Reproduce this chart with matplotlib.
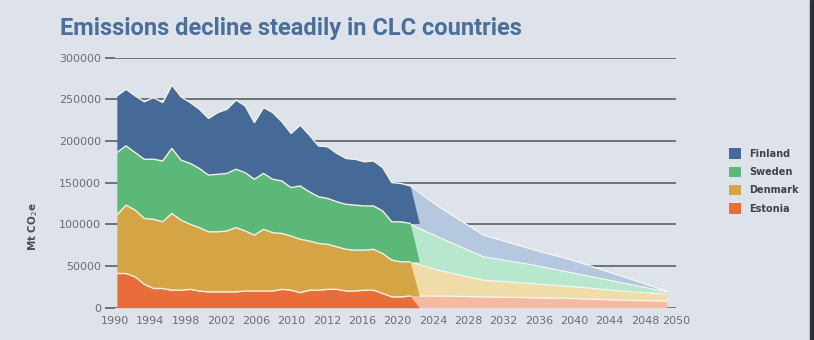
import numpy as np
import matplotlib
matplotlib.use("Agg")
import matplotlib.pyplot as plt
from matplotlib.patches import Patch, Rectangle

# ---------------- data ----------------
hist_years = list(range(1990, 2023))
# per-country values (Mt CO2e)
estonia = [41000, 41000, 37000, 28000, 23000, 23000, 21000, 21000, 22000, 20000,
           19000, 19000, 19000, 19000, 20000, 20000, 20000, 20000, 22000, 21000,
           18000, 21000, 21000, 22000, 22000, 20000, 20000, 21000, 21000, 17000,
           13000, 13000, 14000]
denmark = [70000, 82000, 80000, 79000, 83000, 80000, 92000, 84000, 78000, 76000,
           72000, 72000, 73000, 77000, 72000, 67000, 74000, 70000, 67000, 65000,
           64000, 59000, 56000, 54000, 51000, 50000, 49000, 48000, 49000, 48000,
           44000, 42000, 41000]
sweden = [75000, 71000, 69000, 71000, 72000, 73000, 78000, 72000, 73000, 71000,
          68000, 69000, 69000, 70000, 70000, 67000, 67000, 64000, 63000, 58000,
          64000, 59000, 56000, 55000, 54000, 54000, 54000, 53000, 52000, 51000,
          46000, 48000, 46000]
finland = [68000, 68000, 68000, 69000, 74000, 70000, 76000, 76000, 73000, 71000,
           68000, 74000, 77000, 83000, 80000, 68000, 79000, 80000, 71000, 65000,
           73000, 68000, 61000, 62000, 58000, 55000, 55000, 53000, 54000, 52000,
           47000, 46000, 45000]

proj_years = [2022, 2025, 2030, 2035, 2040, 2045, 2050]
estonia_proj = [14000, 14000, 13000, 12000, 11000, 9000, 8000]
denmark_proj = [41000, 31000, 20000, 17000, 14000, 11000, 8000]
sweden_proj = [45000, 40000, 28000, 23000, 16000, 10000, 3000]
finland_proj = [46000, 37000, 26000, 19000, 15000, 8000, 1000]

countries = ["Estonia", "Denmark", "Sweden", "Finland"]
dark_colors = ["#e96d3a", "#d5a545", "#5bb879", "#456a98"]
light_colors = ["#f5baa1", "#f0dca8", "#b7e8cd", "#b6c8e0"]

y_ticks = [0, 50000, 100000, 150000, 200000, 250000, 300000]
x_tick_labels = ["1990", "1994", "1998", "2002", "2006", "2010", "2012", "2016",
                 "2020", "2024", "2028", "2032", "2036", "2040", "2044", "2048", "2050"]

# ---------------- figure ----------------
BG = "#dee3eb"
fig = plt.figure(figsize=(8.14, 3.40), dpi=100, facecolor=BG)
ax = fig.add_axes([115 / 814, 1 - 307.7 / 340, 561 / 814, 250.2 / 340])
ax.set_facecolor(BG)

# projections (drawn underneath)
proj_series = [estonia_proj, denmark_proj, sweden_proj, finland_proj]
base = np.zeros(len(proj_years))
for vals, col in zip(proj_series, light_colors):
    top = base + np.array(vals)
    ax.fill_between(proj_years, base, top, color=col, lw=0, zorder=2)
    ax.plot(proj_years, top, color="#f4f6f0", lw=0.9, zorder=2.5)
    base = top

# history: each band closes with a slanted edge one year after the last value
hx = np.append(hist_years, hist_years[-1] + 1)
hist_series = [estonia, denmark, sweden, finland]
base = np.zeros(len(hist_years))
for vals, col in zip(hist_series, dark_colors):
    top = base + np.array(vals)
    b_ext = np.append(base, base[-1])
    t_ext = np.append(top, base[-1])
    ax.fill_between(hx, b_ext, t_ext, color=col, lw=0, zorder=3)
    ax.plot(hist_years, top, color="#f3f1e2", lw=1.0, zorder=3.5)
    base = top

# axes styling
ax.set_xlim(1990, 2050)
ax.set_ylim(0, 300000)
ax.set_yticks(y_ticks)
ax.set_yticklabels([str(v) for v in y_ticks])
for s in ax.spines.values():
    s.set_visible(False)
ax.grid(axis="y", color="#6f7378", lw=1.4, zorder=1)
ax.set_axisbelow(True)
ax.tick_params(axis="y", length=7, width=1.4, color="#6f7378", labelsize=8,
               labelcolor="#6a6e73", pad=3)

tick_pos = list(np.linspace(1989.8, 2047.6, 16)) + [2051.0]
ax.set_xticks(tick_pos)
ax.set_xticklabels(x_tick_labels)
ax.tick_params(axis="x", length=0, labelsize=8, labelcolor="#6a6e73", pad=6)

fig.text(33 / 814, 1 - 227 / 340, "Mt CO$_2$e", rotation=90, fontsize=7.5,
         color="#4a4d52", fontweight="bold", ha="center", va="center")

fig.text(60 / 814, 1 - 28 / 340, "Emissions decline steadily in CLC countries",
         fontsize=17, fontweight="bold", color="#4b6f9b", va="center", ha="left",
         family=["Liberation Sans Narrow", "Roboto"])

handles = [Patch(facecolor=c, edgecolor="none") for c in dark_colors[::-1]]
leg = fig.legend(handles, countries[::-1], loc="center left",
                 bbox_to_anchor=(722 / 814, 1 - 181 / 340), frameon=False,
                 handlelength=1.3, handleheight=1.3, handletextpad=0.8,
                 labelspacing=0.8, borderpad=0.2,
                 prop={"size": 7, "weight": "bold"})
for t in leg.get_texts():
    t.set_color("#3f4247")

# dark right edge strip as in the reference
fig.patches.append(Rectangle((810 / 814, 0), 4 / 814, 1, transform=fig.transFigure,
                             color="#2e3033", zorder=10))

fig.savefig("out.png", dpi=100, facecolor=BG)
